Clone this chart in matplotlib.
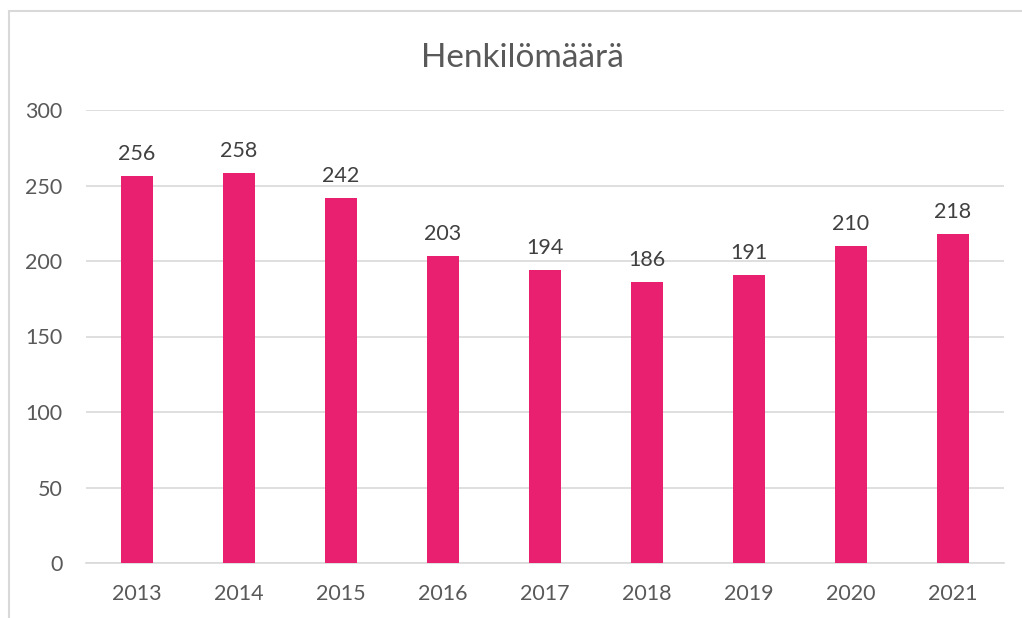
import matplotlib.pyplot as plt
from matplotlib.patches import Rectangle

years = ['2013', '2014', '2015', '2016', '2017', '2018', '2019', '2020', '2021']
counts = [256, 258, 242, 203, 194, 186, 191, 210, 218]

plt.rcParams['font.family'] = ['Lato', 'DejaVu Sans']

fig = plt.figure(figsize=(10.22, 6.18), dpi=100)
ax = fig.add_axes([86 / 1022, 1 - 563 / 618, (1004 - 86) / 1022, (563 - 110) / 618])

# chart frame (cropped at right and bottom)
fig.patches.append(Rectangle((9 / 1022, -0.1), 1.2, 1 - 11 / 618 + 0.1,
                             transform=fig.transFigure, fill=False,
                             edgecolor='#d9d9d9', linewidth=1.5))

x = range(len(years))
bars = ax.bar(x, counts, width=0.31, color='#e8206f', zorder=3)
for xi, v in zip(x, counts):
    ax.text(xi, v + 8, str(v), ha='center', va='bottom', fontsize=15.5, color='#404040')

ax.set_xlim(-0.5, len(years) - 0.5)
ax.set_ylim(0, 300)
ax.set_yticks(range(0, 301, 50))
ax.set_xticks(list(x))
ax.set_xticklabels(years)
ax.yaxis.grid(True, color='#d9d9d9', linewidth=1.2, zorder=0)
ax.tick_params(axis='both', length=0, labelsize=15.5, labelcolor='#595959')
ax.tick_params(axis='y', pad=17)
ax.tick_params(axis='x', pad=15)
for s in ['top', 'right', 'left']:
    ax.spines[s].set_visible(False)
ax.spines['bottom'].set_color('#d9d9d9')
ax.spines['bottom'].set_linewidth(1.2)

fig.text(522 / 1022, 1 - 58 / 618, 'Henkilömäärä', ha='center', va='center',
         fontsize=24, color='#595959')

fig.savefig('out.png', dpi=100)
